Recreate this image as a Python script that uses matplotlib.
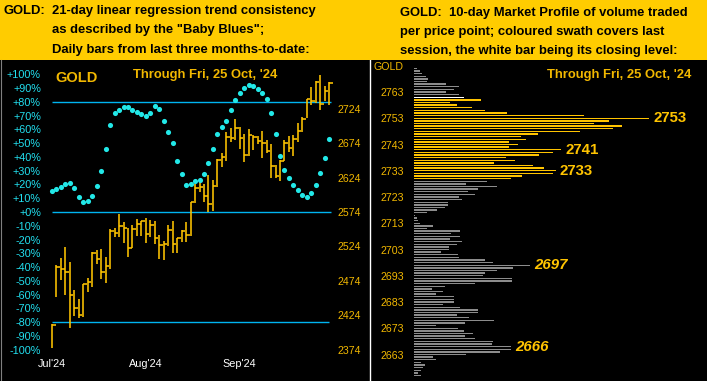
import matplotlib
matplotlib.use("Agg")
import matplotlib.pyplot as plt
from matplotlib.patches import Rectangle
from matplotlib.lines import Line2D
import numpy as np

plt.rcParams['font.family'] = ['Liberation Sans', 'DejaVu Sans']

# ---------------- data: left chart (daily bars, price) ----------------
highs = [2411.1, 2496.9, 2506.6, 2522.6, 2501.8, 2460.6, 2447.0, 2469.3, 2477.5, 2515.3,
         2518.7, 2520.2, 2509.0, 2548.8, 2550.3, 2571.1, 2559.0, 2551.2, 2555.1, 2563.3,
         2561.4, 2565.3, 2562.4, 2560.4, 2540.6, 2531.8, 2555.1, 2560.9, 2536.7, 2547.8,
         2559.0, 2589.0, 2614.7, 2618.1, 2614.2, 2627.8, 2620.6, 2650.6, 2659.3, 2689.9,
         2695.7, 2708.8, 2698.1, 2687.5, 2694.3, 2686.0, 2684.6, 2691.8, 2678.7, 2672.9,
         2642.4, 2649.7, 2678.7, 2684.6, 2686.0, 2703.0, 2712.7, 2738.4, 2755.3, 2764.6,
         2773.3, 2757.3, 2762.6]
lows = [2375.7, 2450.9, 2475.1, 2453.3, 2405.8, 2422.7, 2420.3, 2421.8, 2458.1, 2464.4,
        2498.4, 2476.5, 2471.2, 2490.6, 2538.1, 2538.1, 2529.4, 2508.1, 2521.2, 2539.6,
        2539.6, 2529.4, 2538.1, 2527.5, 2505.6, 2504.2, 2525.0, 2514.9, 2514.9, 2530.9,
        2530.9, 2539.6, 2587.6, 2603.6, 2589.0, 2574.5, 2576.0, 2609.9, 2640.0, 2648.7,
        2675.3, 2678.7, 2665.6, 2647.2, 2656.0, 2664.2, 2672.9, 2653.0, 2659.3, 2624.0,
        2623.0, 2619.6, 2648.7, 2661.8, 2656.0, 2676.3, 2689.9, 2710.3, 2729.6, 2733.0,
        2722.4, 2735.9, 2729.6]
closes = [2409.6, 2494.5, 2491.1, 2487.2, 2453.3, 2433.9, 2424.2, 2468.8, 2472.7, 2514.9,
          2505.6, 2487.2, 2495.5, 2546.9, 2543.9, 2554.1, 2551.2, 2522.1, 2549.3, 2556.1,
          2561.4, 2541.5, 2555.6, 2535.7, 2526.5, 2528.0, 2548.3, 2528.0, 2536.7, 2546.9,
          2541.0, 2589.0, 2609.4, 2610.9, 2597.3, 2585.6, 2611.8, 2649.7, 2654.5, 2683.6,
          2681.2, 2696.7, 2682.1, 2656.9, 2686.0, 2682.6, 2677.8, 2673.9, 2663.2, 2640.9,
          2626.4, 2648.7, 2674.9, 2667.6, 2680.2, 2692.3, 2709.3, 2737.9, 2735.9, 2763.6,
          2730.6, 2750.0, 2762.1]
# "Baby Blues": 21-day linear regression trend consistency (%)
baby_blues = [15.5, 17.0, 18.4, 20.6, 21.3, 17.7, 11.1, 7.5, 8.2, 11.9,
              19.1, 30.0, 46.0, 63.5, 71.8, 74.4, 76.6, 76.6, 74.4, 72.9,
              71.5, 70.0, 72.2, 77.3, 75.1, 66.4, 58.4, 50.4, 37.3, 27.9,
              19.9, 20.6, 22.8, 23.5, 27.9, 35.9, 46.0, 56.9, 62.0, 66.4,
              74.4, 81.7, 86.8, 90.4, 92.6, 91.9, 89.7, 86.8, 82.4, 72.2,
              56.9, 40.9, 30.8, 24.9, 19.9, 16.2, 12.6, 11.1, 14.0, 19.9,
              28.6, 39.5, 53.3]
month_labels = ["Jul'24", "Aug'24", "Sep'24"]
month_pos = [0, 21, 42]
price_ticks = [2374, 2424, 2474, 2524, 2574, 2624, 2674, 2724]
pct_ticks = list(range(-100, 101, 10))
ref_lines_pct = [80, 0, -80]

# ---------------- data: right chart (market profile) ----------------
profile_top = 2772
profile_vol = [3, 6, 8, 12, 14, 13, 32, 45, 40, 32,
               45, 50, 67, 36, 43, 58, 71, 93, 170, 235,
               195, 180, 208, 199, 166, 124, 107, 112, 95, 104,
               95, 147, 139, 125, 92, 101, 80, 119, 130, 142,
               139, 108, 97, 73, 52, 83, 64, 54, 61, 45,
               48, 34, 34, 31, 23, 13, 1, 3, 4, 6,
               19, 13, 46, 37, 46, 36, 48, 43, 35, 35,
               27, 44, 45, 71, 79, 116, 99, 83, 71, 69,
               98, 98, 61, 31, 18, 29, 22, 40, 40, 40,
               29, 46, 64, 64, 43, 55, 80, 51, 22, 44,
               50, 59, 51, 61, 79, 78, 97, 97, 86, 52,
               19, 22, 7, 11, 9, 7, 4, 7]
profile_levels = [profile_top - i for i in range(len(profile_vol))]
session_low, session_high = 2730, 2760
close_level = 2761
profile_ticks = [2663, 2673, 2683, 2693, 2703, 2713, 2723, 2733, 2743, 2753, 2763]
labeled_levels = [2753, 2741, 2733, 2697, 2666]
italic_levels = [2697, 2666]

# ---------------- styling ----------------
W, H, DPI = 707, 381, 100
YEL_BG = '#FFCC00'
GOLD_TXT = '#F2B800'
BAR_C = '#FFC400'
CYAN_TXT = '#22E0F0'
DOT_C = '#22E8E8'
LINE_C = '#00B4F0'
GRAY_C = '#8C8C8C'

fig = plt.figure(figsize=(W / DPI, H / DPI), dpi=DPI, facecolor='black')


def rect(x0, y0, x1, y1):
    return [x0 / W, 1 - y1 / H, (x1 - x0) / W, (y1 - y0) / H]


def fx(px):
    return px / W


def fy(py):
    return 1 - py / H


# header band
fig.add_artist(Rectangle((0, fy(60)), 1, 60 / H, transform=fig.transFigure,
                         facecolor=YEL_BG, edgecolor='none', zorder=0))
hfs = 9.4
fig.text(fx(4), fy(14), "GOLD:", fontsize=hfs, weight='bold', color='black', va='baseline')
for txt, yb in [("21-day linear regression trend consistency", 14),
                ('as described by the "Baby Blues";', 33.3),
                ("Daily bars from last three months-to-date:", 53)]:
    fig.text(fx(51.7), fy(yb), txt, fontsize=hfs, weight='bold', color='black', va='baseline')
for txt, yb in [("GOLD:  10-day Market Profile of volume traded", 16),
                ("per price point; coloured swath covers last", 35),
                ("session, the white bar being its closing level:", 54)]:
    fig.text(fx(399.5), fy(yb), txt, fontsize=hfs, weight='bold', color='black', va='baseline')

# ---------------- left chart ----------------
SP = 4.47  # px per bar
P0 = 52    # px of first bar
ax = fig.add_axes(rect(0, 60, 361, 381))
ax.set_facecolor('black')
ax.set_xlim(-P0 / SP, (361 - P0) / SP)
usd_per_px = 1.4545
ptop = 2574 + (212 - 60) * usd_per_px
pbot = 2574 - (381 - 212) * usd_per_px
ax.set_ylim((pbot - 2574) / 2, (ptop - 2574) / 2)
for s in ax.spines.values():
    s.set_visible(False)

axp = ax.twinx()
axp.set_ylim(pbot, ptop)
axp.set_xlim(ax.get_xlim())
for s in axp.spines.values():
    s.set_visible(False)

x = np.arange(len(closes))
ax.hlines(ref_lines_pct, -0.07, [62.35, 62.35, 61.97], color=LINE_C, lw=1.0, zorder=1)
axp.vlines(x, lows, highs, color=BAR_C, lw=1.15, zorder=2)
axp.hlines(closes, x, x + 0.8, color=BAR_C, lw=1.15, zorder=2)
axp.plot(x, [2574 + 2 * v for v in baby_blues], 'o', color=DOT_C, ms=3.7, mew=0, zorder=3)

ax.set_yticks(pct_ticks)
ax.set_yticklabels([("+%d%%" % v) if v >= 0 else ("%d%%" % v) for v in pct_ticks])
ax.tick_params(axis='y', length=0, pad=-29.5, labelcolor=CYAN_TXT, labelsize=7.8)
ax.set_xticks(month_pos)
ax.set_xticklabels(month_labels)
ax.tick_params(axis='x', length=0, pad=-15.5, labelcolor='white', labelsize=7.8)

axp.set_yticks(price_ticks)
axp.set_yticklabels([str(v) for v in price_ticks])
axp.tick_params(axis='y', length=0, pad=-16.6, labelcolor=GOLD_TXT, labelsize=7.6)

fig.text(fx(55), fy(82), "GOLD", fontsize=10.5, weight='bold', color=GOLD_TXT, va='baseline')
fig.text(fx(133), fy(78.3), "Through Fri, 25 Oct, '24", fontsize=9.4, weight='bold',
         color=GOLD_TXT, va='baseline')
fig.add_artist(Line2D([fx(0.5), fx(0.5)], [fy(60), fy(381)], color='#808080', lw=0.8,
                      transform=fig.transFigure))

# ---------------- right chart ----------------
X0 = 414
axr = fig.add_axes(rect(362, 60, 707, 381))
axr.set_facecolor('black')
axr.set_xlim(362 - X0, 707 - X0)
axr.set_ylim(2763 - (381 - 92) / 2.625, 2763 + (92 - 60) / 2.625)
for s in axr.spines.values():
    s.set_visible(False)
colors = []
for lv in profile_levels:
    if lv == close_level:
        colors.append('white')
    elif session_low <= lv <= session_high:
        colors.append(BAR_C)
    else:
        colors.append(GRAY_C)
axr.barh(profile_levels, profile_vol, height=0.55, left=0, color=colors, linewidth=0)
axr.axvline(370 - X0, color='white', lw=1.0)
axr.set_xticks([])
axr.set_yticks(profile_ticks)
axr.set_yticklabels([str(v) for v in profile_ticks])
axr.tick_params(axis='y', length=0, pad=-30.2, labelcolor=GOLD_TXT, labelsize=7.7)
vol_of = dict(zip(profile_levels, profile_vol))
for lv in labeled_levels:
    axr.text(vol_of[lv] + 4, lv, str(lv), fontsize=10.8, weight='bold', color=BAR_C,
             style='italic' if lv in italic_levels else 'normal', va='center', ha='left')
fig.text(fx(404), fy(70), "GOLD", fontsize=7.7, color=GOLD_TXT, va='baseline', ha='right')
fig.text(fx(546.7), fy(78.3), "Through Fri, 25 Oct, '24", fontsize=9.4, weight='bold',
         color=GOLD_TXT, va='baseline')

fig.savefig("out.png", dpi=DPI, facecolor='black')
